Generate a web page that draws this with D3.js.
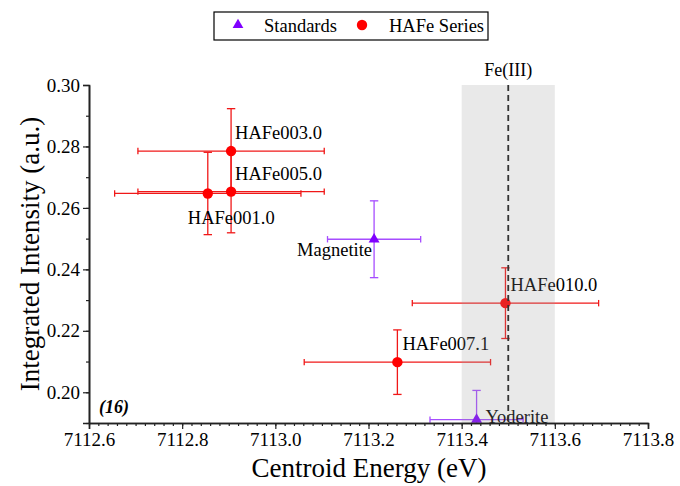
<!DOCTYPE html>
<html>
<head>
<meta charset="utf-8">
<script src="https://cdn.jsdelivr.net/npm/d3@7"></script>
<style>
  body { margin: 0; background: #fff; }
  svg text { font-family: "Liberation Serif", "Times New Roman", serif; }
</style>
</head>
<body>
<svg id="chart" width="680" height="486"></svg>
<script>
// standards (triangles)
const stdNames = ["Magnetite", "Yoderite"];
const stdX = [7113.212, 7113.432];
const stdY = [0.2498, 0.1911];
const stdXErr = [0.1, 0.1];
const stdYErr = [0.0125, 0.0095];

// HAFe series (circles)
const seriesNames = ["HAFe003.0", "HAFe005.0", "HAFe001.0", "HAFe010.0", "HAFe007.1"];
const seriesX = [7112.905, 7112.905, 7112.855, 7113.494, 7113.262];
const seriesY = [0.2785, 0.2653, 0.2647, 0.229, 0.2098];
const seriesXErr = [0.2, 0.2, 0.2, 0.2, 0.2];
const seriesYErr = [0.0138, 0.0134, 0.0134, 0.0115, 0.0105];

const xTicks = [7112.6, 7112.8, 7113.0, 7113.2, 7113.4, 7113.6, 7113.8];
const yTicks = [0.20, 0.22, 0.24, 0.26, 0.28, 0.30];
const fe3Energy = 7113.5;
const fe3Band = [7113.4, 7113.6];

(function() {
	let svg = d3.select("#chart");
	let left = 89, right = 648, top = 85, bottom = 423;
	let serif = "'Liberation Serif', 'Times New Roman', serif";

	let x = d3.scaleLinear().domain([7112.6, 7113.8]).range([left, right]);
	let y = d3.scaleLinear().domain([0.19, 0.30]).range([bottom, top]);

	svg.append("defs").append("clipPath").attr("id", "plot-clip")
		.append("rect")
		.attr("x", left).attr("y", top)
		.attr("width", right - left).attr("height", bottom - top);

	let plot = svg.append("g").attr("clip-path", "url(#plot-clip)");

	let red = "#ff0000";
	let redBar = "#f01818";
	let purple = "#8000ff";
	let purpleBar = "#a64dff";

	function drawErrors(xs, ys, xe, ye, color) {
		let cap = 3.2;
		xs.forEach(function(v, i) {
			let cx = x(v), cy = y(ys[i]);
			let x0 = x(v - xe[i]), x1 = x(v + xe[i]);
			let y0 = y(ys[i] - ye[i]), y1 = y(ys[i] + ye[i]);
			let g = plot.append("g").attr("stroke", color).attr("stroke-width", 1.3).attr("fill", "none");
			g.append("line").attr("x1", x0).attr("x2", x1).attr("y1", cy).attr("y2", cy);
			g.append("line").attr("x1", x0).attr("x2", x0).attr("y1", cy - cap).attr("y2", cy + cap);
			g.append("line").attr("x1", x1).attr("x2", x1).attr("y1", cy - cap).attr("y2", cy + cap);
			g.append("line").attr("x1", cx).attr("x2", cx).attr("y1", y0).attr("y2", y1);
			g.append("line").attr("x1", cx - cap - 1).attr("x2", cx + cap + 1).attr("y1", y0).attr("y2", y0);
			g.append("line").attr("x1", cx - cap - 1).attr("x2", cx + cap + 1).attr("y1", y1).attr("y2", y1);
		});
	}

	drawErrors(seriesX, seriesY, seriesXErr, seriesYErr, redBar);
	drawErrors(stdX, stdY, stdXErr, stdYErr, purpleBar);

	plot.selectAll(".hafe").data(seriesX).enter().append("circle")
		.attr("cx", function(d) { return x(d); })
		.attr("cy", function(d, i) { return y(seriesY[i]); })
		.attr("r", 5.2)
		.attr("fill", red);

	let tri = d3.symbol().type(d3.symbolTriangle).size(52);
	plot.selectAll(".std").data(stdX).enter().append("path")
		.attr("d", tri)
		.attr("transform", function(d, i) { return "translate(" + x(d) + "," + y(stdY[i]) + ")"; })
		.attr("fill", purple);

	// point labels
	let labelPos = {
		"HAFe003.0": [4, -12],
		"HAFe005.0": [4, -12],
		"HAFe001.0": [-20, 31],
		"HAFe010.0": [5, -12],
		"HAFe007.1": [5, -12]
	};
	seriesNames.forEach(function(name, i) {
		let p = labelPos[name];
		svg.append("text")
			.attr("x", x(seriesX[i]) + p[0])
			.attr("y", y(seriesY[i]) + p[1])
			.style("font-size", "18.5px")
			.text(name);
	});
	svg.append("text")
		.attr("x", x(stdX[0]) - 2).attr("y", y(stdY[0]) + 17)
		.attr("text-anchor", "end").style("font-size", "18.5px")
		.text(stdNames[0]);
	svg.append("text")
		.attr("x", x(stdX[1]) + 9).attr("y", y(stdY[1]) + 3)
		.style("font-size", "18.5px")
		.text(stdNames[1]);

	// Fe(III) band, drawn over the points
	svg.append("rect")
		.attr("x", x(fe3Band[0])).attr("y", top)
		.attr("width", x(fe3Band[1]) - x(fe3Band[0]))
		.attr("height", bottom - top)
		.attr("fill", "#999")
		.attr("opacity", 0.22);
	svg.append("line")
		.attr("x1", x(fe3Energy)).attr("x2", x(fe3Energy))
		.attr("y1", top).attr("y2", bottom)
		.attr("stroke", "#333").attr("stroke-width", 1.8)
		.attr("stroke-dasharray", "6,4");
	svg.append("text")
		.attr("x", x(fe3Energy)).attr("y", 76)
		.attr("text-anchor", "middle").style("font-size", "18px")
		.text("Fe(III)");

	// axes
	svg.append("g").attr("transform", "translate(0," + bottom + ")")
		.call(d3.axisBottom(x).tickValues(xTicks).tickFormat(d3.format(".1f")).tickSizeOuter(0).tickSize(6).tickPadding(4));
	let xMinor = d3.range(0, 61).map(function(k) { return 7112.6 + k * 0.02; });
	svg.append("g").attr("transform", "translate(0," + bottom + ")")
		.call(d3.axisBottom(x).tickValues(xMinor).tickFormat("").tickSize(3).tickSizeOuter(0));

	svg.append("g").attr("transform", "translate(" + left + ",0)")
		.call(d3.axisLeft(y).tickValues(yTicks).tickFormat(d3.format(".2f")).tickSizeOuter(0).tickSize(6).tickPadding(3));
	let yMinor = d3.range(0, 11).map(function(k) { return 0.19 + k * 0.01; });
	svg.append("g").attr("transform", "translate(" + left + ",0)")
		.call(d3.axisLeft(y).tickValues(yMinor).tickFormat("").tickSize(3).tickSizeOuter(0));

	svg.selectAll(".domain").attr("stroke", "#222").attr("stroke-width", 1.6);
	svg.selectAll(".tick line").attr("stroke", "#222").attr("stroke-width", 1.2);
	svg.selectAll(".tick text").style("font-size", "19px").attr("fill", "#000");

	svg.append("text")
		.attr("x", 369).attr("y", 477)
		.attr("text-anchor", "middle").style("font-size", "27px")
		.text("Centroid Energy (eV)");
	svg.append("text")
		.attr("transform", "translate(39,254) rotate(-90)")
		.attr("text-anchor", "middle").style("font-size", "27px")
		.text("Integrated Intensity (a.u.)");

	svg.append("text")
		.attr("x", 99).attr("y", 413)
		.style("font-size", "18px").style("font-weight", "bold").style("font-style", "italic")
		.text("(16)");

	// legend
	let legend = svg.append("g");
	legend.append("rect")
		.attr("x", 214).attr("y", 12).attr("width", 274).attr("height", 28)
		.attr("fill", "#fff").attr("stroke", "#000").attr("stroke-width", 1.2);
	legend.append("path")
		.attr("d", d3.symbol().type(d3.symbolTriangle).size(50))
		.attr("transform", "translate(238,25)")
		.attr("fill", purple);
	legend.append("text").attr("x", 264).attr("y", 32).style("font-size", "18.5px").text("Standards");
	legend.append("circle").attr("cx", 362).attr("cy", 25).attr("r", 5.2).attr("fill", red);
	legend.append("text").attr("x", 389).attr("y", 32).style("font-size", "18.5px").text("HAFe Series");

	svg.selectAll("text").style("font-family", serif);
})();
</script>
</body>
</html>
